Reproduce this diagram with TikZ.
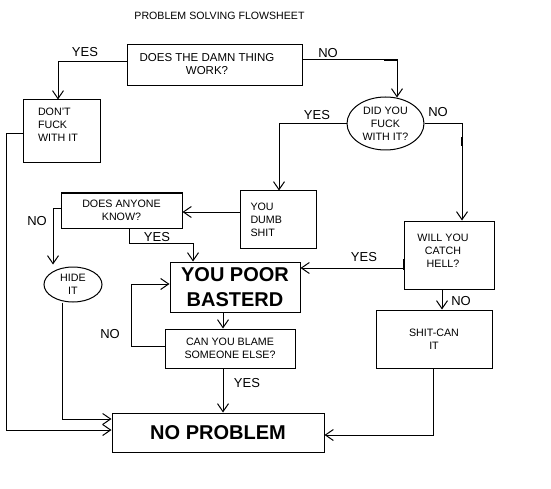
\documentclass[tikz,border=0pt]{standalone}
\usepackage{fontspec}
\setmainfont{Liberation Sans}
\usetikzlibrary{arrows.meta,shapes.geometric}
\newcommand\fcBody{\fontsize{10.7}{13}\selectfont}
\newcommand\fcQ{\fontsize{11.5}{13}\selectfont}
\newcommand\fcLbl{\fontsize{13}{15}\selectfont}
\newcommand\fcTitle{\fontsize{10.6}{13}\selectfont}
\newcommand\fcBig{\bfseries\fontsize{20}{25}\selectfont}
\begin{document}
\begin{tikzpicture}[x=1pt,y=-1pt, line width=1pt,
  box/.style={draw, rectangle, inner sep=0pt, align=center, font=\fcBody},
  oval/.style={draw, ellipse, inner sep=0pt, align=center, font=\fcBody},
  txt/.style={inner sep=0pt, align=center, font=\fcBody},
  lbl/.style={inner sep=0pt, font=\fcLbl},
  arr/.style={-{Straight Barb[length=8pt,width=11pt]}},
  tick/.style={line width=2pt}]
\fill[white] (0,0) rectangle (551,489);
\useasboundingbox (0,0) rectangle (551,489);
\node[inner sep=0pt, font=\fcTitle] (title) at (219.5,16) {PROBLEM SOLVING FLOWSHEET};

% boxes
\node[box, minimum width=175pt, minimum height=41pt] (q1) at (214.5,65.5) {};
\node[txt, font=\fcQ] (q1t) at (207,64) {DOES THE DAMN THING\\WORK?};
\node[box, minimum width=77pt, minimum height=63pt] (dont) at (61.5,131.5) {};
\node[txt, align=left, anchor=west] (dontt) at (37.5,125) {DON'T\\FUCK\\WITH IT};
\node[oval, minimum width=77pt, minimum height=53pt] (e1) at (385.5,123.5) {DID YOU\\FUCK\\WITH IT?};
\node[box, minimum width=76pt, minimum height=57pt] (dumb) at (278,219.5) {};
\node[txt, align=left, anchor=west] (dumbt) at (250,219.5) {YOU\\DUMB\\SHIT};
\node[box, minimum width=121pt, minimum height=35pt] (anyone) at (121.5,210.5) {DOES ANYONE\\KNOW?};
\node[oval, minimum width=58pt, minimum height=35pt] (hide) at (73,284.5) {HIDE\\IT};
\node[box, minimum width=130pt, minimum height=50pt, font=\fcBig] (poor) at (235,287) {YOU POOR\\BASTERD};
\node[box, minimum width=130pt, minimum height=39pt] (blame) at (230,348.5) {CAN YOU BLAME\\SOMEONE ELSE?};
\node[box, minimum width=212pt, minimum height=39pt, font=\fcBig] (nop) at (218,432.5) {NO PROBLEM};
\node[box, minimum width=90pt, minimum height=68pt] (will) at (449,255) {};
\node[txt] (willt) at (443,250.5) {WILL YOU\\CATCH\\HELL?};
\node[box, minimum width=116pt, minimum height=58pt] (shit) at (434,339) {SHIT-CAN\\IT};

% connectors
\draw[arr] ([yshift=3.5pt]q1.west) -| ([xshift=-3.5pt]dont.north);
\draw[arr] ([yshift=5.5pt]q1.east) -| ([xshift=11.5pt,yshift=-1pt]e1.north);
\draw[tick] ([yshift=5.5pt]q1.east) ++(81,0) -- ++(14,0);
\draw[arr] (e1.west) -| ([xshift=1pt]dumb.north);
\draw[arr] (e1.east) -| ([xshift=13pt]will.north);
\draw[tick] ([xshift=13pt]will.north) ++(0,-83) -- ++(0,9);
\draw[arr] ([yshift=7.5pt]dumb.west) -- ([yshift=-1.5pt]anyone.east);
\draw[arr] ([yshift=2.5pt]anyone.west) -| ([xshift=-20pt,yshift=2pt]hide.north);
\draw[arr] ([xshift=-11pt]hide.south) |- ([yshift=13.5pt]nop.west);
\draw[arr] ([yshift=-2.5pt]dont.west) -- ++(-16,0) |- ([yshift=2.5pt]nop.west);
\draw[arr] ([xshift=7.5pt]anyone.south) -- ++(0,15) -| ([xshift=-42pt]poor.north);
\draw[arr] ([yshift=-13pt]will.west) -- ([yshift=19pt]poor.east);
\draw[tick] ([yshift=-13pt]will.west) ++(0,-9) -- ++(0,11);
\draw[arr] ([xshift=-12pt]poor.south) -- ([xshift=-12pt]poor.south |- blame.north);
\draw[arr] ([yshift=2.5pt]blame.west) -- ++(-33,0) |- ([yshift=3pt]poor.west);
\draw[arr] ([xshift=-7pt]blame.south) -- ([xshift=-7pt]blame.south |- nop.north);
\draw[arr] ([xshift=-7pt]will.south) -- ([xshift=-7pt]will.south |- shit.north);
\draw[arr] ([xshift=-1pt]shit.south) |- ([yshift=-2.5pt]nop.east);

% labels
\node[lbl] (l1) at (85,52) {YES};
\node[lbl] (l2) at (328,53) {NO};
\node[lbl] (l3) at (317,115) {YES};
\node[lbl] (l4) at (438,112) {NO};
\node[lbl] (l5) at (37,221) {NO};
\node[lbl] (l6) at (157,237) {YES};
\node[lbl] (l7) at (364,257) {YES};
\node[lbl] (l8) at (110,334) {NO};
\node[lbl] (l9) at (247,383) {YES};
\node[lbl] (l10) at (461,301) {NO};
\end{tikzpicture}
\end{document}
